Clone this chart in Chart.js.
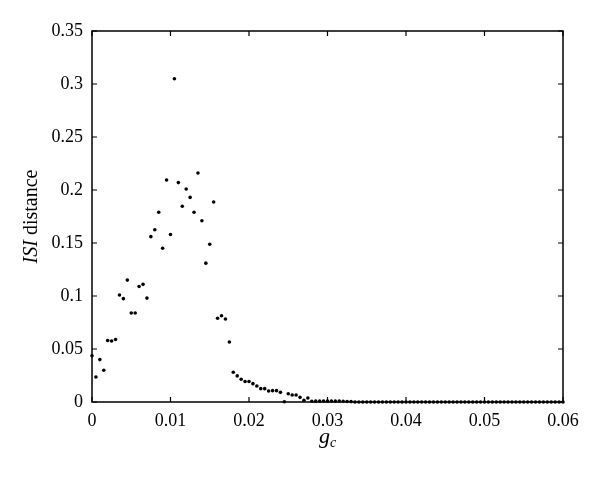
<!DOCTYPE html>
<html>
<head>
<meta charset="utf-8">
<script src="https://cdn.jsdelivr.net/npm/chart.js@4/dist/chart.umd.min.js"></script>
<style>
html,body{margin:0;padding:0;background:#fff;}
canvas{display:block;}
</style>
</head>
<body>
<canvas id="c" width="600" height="479"></canvas>
<script>
const gcValues = [
  0, 0.0005, 0.001, 0.0015, 0.002, 0.0025, 0.003, 0.0035, 0.004, 0.0045,
  0.005, 0.0055, 0.006, 0.0065, 0.007, 0.0075, 0.008, 0.0085, 0.009, 0.0095,
  0.01, 0.0105, 0.011, 0.0115, 0.012, 0.0125, 0.013, 0.0135, 0.014, 0.0145,
  0.015, 0.0155, 0.016, 0.0165, 0.017, 0.0175, 0.018, 0.0185, 0.019, 0.0195,
  0.02, 0.0205, 0.021, 0.0215, 0.022, 0.0225, 0.023, 0.0235, 0.024, 0.0245,
  0.025, 0.0255, 0.026, 0.0265, 0.027, 0.0275, 0.028, 0.0285, 0.029, 0.0295,
  0.03, 0.0305, 0.031, 0.0315, 0.032, 0.0325, 0.033, 0.0335, 0.034, 0.0345,
  0.035, 0.0355, 0.036, 0.0365, 0.037, 0.0375, 0.038, 0.0385, 0.039, 0.0395,
  0.04, 0.0405, 0.041, 0.0415, 0.042, 0.0425, 0.043, 0.0435, 0.044, 0.0445,
  0.045, 0.0455, 0.046, 0.0465, 0.047, 0.0475, 0.048, 0.0485, 0.049, 0.0495,
  0.05, 0.0505, 0.051, 0.0515, 0.052, 0.0525, 0.053, 0.0535, 0.054, 0.0545,
  0.055, 0.0555, 0.056, 0.0565, 0.057, 0.0575, 0.058, 0.0585, 0.059, 0.0595,
  0.06
];
const isiDistance = [
  0.0437, 0.0236, 0.040, 0.030, 0.058, 0.0575, 0.059, 0.101, 0.0975, 0.115,
  0.084, 0.084, 0.109, 0.111, 0.098, 0.156, 0.1625, 0.179, 0.145, 0.2094,
  0.158, 0.305, 0.207, 0.1846, 0.201, 0.193, 0.179, 0.216, 0.171, 0.131,
  0.1488, 0.1887, 0.079, 0.0814, 0.0783, 0.0566, 0.028, 0.0246, 0.0215, 0.0193,
  0.0193, 0.0173, 0.0151, 0.0126, 0.0126, 0.0104, 0.0107, 0.0107, 0.0091, 0.0003,
  0.0078, 0.0066, 0.0066, 0.0044, 0.0016, 0.0038, 0.0007, 0.0008, 0.0008, 0.001,
  0.0008, 0.001, 0.0008, 0.0009, 0.0007, 0.0005, 0.0004, 0, 0, 0,
  0, 0, 0, 0, 0, 0, 0, 0, 0, 0,
  0, 0, 0, 0, 0, 0, 0, 0, 0, 0,
  0, 0, 0, 0, 0, 0, 0, 0, 0, 0,
  0, 0, 0, 0, 0, 0, 0, 0, 0, 0,
  0, 0, 0, 0, 0, 0, 0, 0, 0, 0,
  0
];
const xTicks = [0, 0.01, 0.02, 0.03, 0.04, 0.05, 0.06];
const yTicks = [0, 0.05, 0.1, 0.15, 0.2, 0.25, 0.3, 0.35];
const xTitleMain = 'g';
const xTitleSub = 'c';
const yTitleItalic = 'ISI';
const yTitleRest = ' distance';

const points = gcValues.map((g, i) => ({x: g, y: isiDistance[i]}));
const SERIF = '"Liberation Serif", "DejaVu Serif", serif';

const framePlugin = {
  id: 'frame',
  afterDatasetsDraw(chart) {
    const ctx = chart.ctx;
    const a = chart.chartArea;
    const xs = chart.scales.x, ys = chart.scales.y;
    ctx.save();
    ctx.strokeStyle = '#000';
    ctx.lineWidth = 1.5;
    ctx.strokeRect(a.left, a.top, a.right - a.left, a.bottom - a.top);
    ctx.lineWidth = 1.2;
    const L = 5;
    ctx.beginPath();
    xTicks.forEach(v => {
      const px = xs.getPixelForValue(v);
      ctx.moveTo(px, a.bottom); ctx.lineTo(px, a.bottom - L);
      ctx.moveTo(px, a.top); ctx.lineTo(px, a.top + L);
    });
    yTicks.forEach(v => {
      const py = ys.getPixelForValue(v);
      ctx.moveTo(a.left, py); ctx.lineTo(a.left + L, py);
      ctx.moveTo(a.right, py); ctx.lineTo(a.right - L, py);
    });
    ctx.stroke();

    // x title: g_c
    ctx.fillStyle = '#000';
    ctx.textBaseline = 'alphabetic';
    const cx = (a.left + a.right) / 2;
    ctx.font = 'italic 22px ' + SERIF;
    const gw = ctx.measureText(xTitleMain).width;
    ctx.font = 'italic 14px ' + SERIF;
    const cw = ctx.measureText(xTitleSub).width;
    const startX = cx - (gw + cw) / 2;
    ctx.font = 'italic 22px ' + SERIF;
    ctx.textAlign = 'left';
    ctx.fillText(xTitleMain, startX, 443);
    ctx.font = 'italic 14px ' + SERIF;
    ctx.fillText(xTitleSub, startX + gw, 447);

    // y title: ISI distance
    const cy = (a.top + a.bottom) / 2;
    ctx.translate(37, cy);
    ctx.rotate(-Math.PI / 2);
    ctx.font = 'italic 20px ' + SERIF;
    const iw = ctx.measureText(yTitleItalic).width;
    ctx.font = '20px ' + SERIF;
    const rw = ctx.measureText(yTitleRest).width;
    const sx = -(iw + rw) / 2;
    ctx.font = 'italic 20px ' + SERIF;
    ctx.fillText(yTitleItalic, sx, 0);
    ctx.font = '20px ' + SERIF;
    ctx.fillText(yTitleRest, sx + iw, 0);
    ctx.restore();
  }
};

new Chart(document.getElementById('c'), {
  type: 'scatter',
  data: {
    datasets: [{
      data: points,
      backgroundColor: '#000',
      borderWidth: 0,
      pointRadius: 1.8,
      pointHoverRadius: 1.8,
      clip: false
    }]
  },
  options: {
    responsive: false,
    animation: false,
    events: [],
    layout: { padding: { left: 0, right: 37, top: 31, bottom: 0 } },
    plugins: { legend: { display: false }, tooltip: { enabled: false } },
    scales: {
      x: {
        type: 'linear', min: 0, max: 0.06,
        afterBuildTicks: s => { s.ticks = xTicks.map(v => ({value: v})); },
        afterFit: s => { s.height = 77; },
        grid: { display: false, drawTicks: false },
        border: { display: false },
        ticks: {
          color: '#000', padding: 8, maxRotation: 0, autoSkip: false,
          font: { family: SERIF, size: 18 },
          callback: v => String(v)
        }
      },
      y: {
        type: 'linear', min: 0, max: 0.35,
        afterBuildTicks: s => { s.ticks = yTicks.map(v => ({value: v})); },
        afterFit: s => { s.width = 92; },
        grid: { display: false, drawTicks: false },
        border: { display: false },
        ticks: {
          color: '#000', padding: 9, autoSkip: false,
          font: { family: SERIF, size: 18 },
          callback: v => String(v)
        }
      }
    }
  },
  plugins: [framePlugin]
});
</script>
</body>
</html>
